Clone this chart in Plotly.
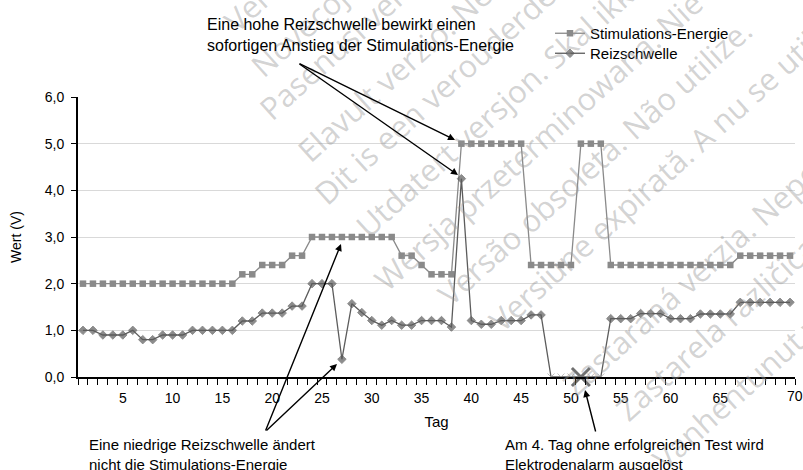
import math
import plotly.graph_objects as go

# ---------------- data ----------------
days = list(range(1, 73))

stim_energy = [2.0, 2.0, 2.0, 2.0, 2.0, 2.0, 2.0, 2.0, 2.0, 2.0,
               2.0, 2.0, 2.0, 2.0, 2.0, 2.0, 2.2, 2.2, 2.4, 2.4,
               2.4, 2.6, 2.6, 3.0, 3.0, 3.0, 3.0, 3.0, 3.0, 3.0,
               3.0, 3.0, 2.6, 2.6, 2.4, 2.2, 2.2, 2.2, 5.0, 5.0,
               5.0, 5.0, 5.0, 5.0, 5.0, 2.4, 2.4, 2.4, 2.4, 2.4,
               5.0, 5.0, 5.0, 2.4, 2.4, 2.4, 2.4, 2.4, 2.4, 2.4,
               2.4, 2.4, 2.4, 2.4, 2.4, 2.4, 2.6, 2.6, 2.6, 2.6,
               2.6, 2.6]

threshold = [1.0, 1.0, 0.9, 0.9, 0.9, 1.0, 0.8, 0.8, 0.9, 0.9,
             0.9, 1.0, 1.0, 1.0, 1.0, 1.0, 1.2, 1.2, 1.37, 1.37,
             1.37, 1.52, 1.52, 2.0, 2.0, 2.0, 0.38, 1.57, 1.38, 1.21,
             1.11, 1.21, 1.11, 1.11, 1.21, 1.21, 1.21, 1.07, 4.25, 1.21,
             1.13, 1.13, 1.21, 1.21, 1.21, 1.33, 1.33, 0.0, 0.0, 0.0,
             0.0, 0.0, 0.0, 1.25, 1.25, 1.25, 1.36, 1.36, 1.36, 1.25,
             1.25, 1.25, 1.35, 1.35, 1.35, 1.35, 1.6, 1.6, 1.6, 1.6,
             1.6, 1.6]

failed_days = [48, 49, 50, 51, 52, 53]   # no successful threshold test
alarm_day = 51                            # 4th day without success

x_tickvals = [5, 10, 15, 20, 25, 30, 35, 40, 45, 50, 55, 60, 65]
x_ticktext = ["5", "10", "15", "20", "25", "30", "35", "40", "45", "50",
              "55", "60", "65"]
last_tick_text = "70"
y_tickvals = [0, 1, 2, 3, 4, 5, 6]

watermark_texts = [
    "Versione obsoleta. Non utilizzare.",
    "Novecojusi versija. Neizmantot.",
    "Pasenusi versija. Nenaudokite.",
    "Elavult verzió. Ne használja!",
    "Dit is een verouderde versie.",
    "Utdatert versjon. Skal ikke brukes.",
    "Wersja przeterminowana. Nie używać.",
    "Versão obsoleta. Não utilize.",
    "Versiune expirată. A nu se utiliza.",
    "Zastaraná verzia. Nepoužívať.",
    "Zastarela različica. Ne uporabite.",
    "Vanhentunut versio. Älä käytä.",
]
# left ends of the watermark lines (pixels from top-left)
watermark_starts = [(212, 40), (245, 80), (255, 122), (283, 172), (305, 210),
                    (342, 248), (382, 282), (427, 312), (470, 347), (558, 397),
                    (600, 432), (648, 472)]

# ---------------- layout helpers ----------------
W, H = 803, 470
ML, MR, MT, MB = 78, 8, 97, 93
PW, PH = W - ML - MR, H - MT - MB


def px(x):
    return (x - ML) / PW


def py(y):
    return (MT + PH - y) / PH


FONT = "Liberation Sans, Arial, sans-serif"

thr_symbols = ["x-thin-open" if d in failed_days else "diamond" for d in days]
thr_sizes = [7 if d in failed_days else 6.5 for d in days]
thr_colors = ["#a0a0a0" if d in failed_days else "#5c5c5c" for d in days]

fig = go.Figure()
fig.add_trace(go.Scatter(
    x=days, y=stim_energy, mode="lines+markers", name="Stimulations-Energie",
    line=dict(color="#8a8a8a", width=1.3),
    marker=dict(symbol="square", size=6.5, color="#8a8a8a"),
    legend="legend",
))
fig.add_trace(go.Scatter(
    x=days, y=threshold, mode="lines+markers", name="Reizschwelle",
    line=dict(color="#5c5c5c", width=1.3),
    marker=dict(symbol=thr_symbols, size=thr_sizes, color=thr_colors,
                line=dict(color=thr_colors, width=1)),
    legend="legend2",
))
fig.add_trace(go.Scatter(
    x=[alarm_day], y=[threshold[days.index(alarm_day)]], mode="markers",
    showlegend=False, cliponaxis=False,
    marker=dict(symbol="x-thin-open", size=18, color="#707070",
                line=dict(color="#707070", width=3)),
))

annotations = []

# watermark (diagonal, light grey)
WM_SIZE = 31
WM_ANGLE = 42
ang = math.radians(WM_ANGLE)
dir_x, dir_y = math.cos(ang), -math.sin(ang)
for t, (sx, sy) in zip(watermark_texts, watermark_starts):
    L = len(t) * 0.5 * WM_SIZE
    cx, cy = sx + dir_x * L / 2, sy + dir_y * L / 2
    annotations.append(dict(
        text=t, x=px(cx), y=py(cy), xref="paper", yref="paper",
        xanchor="center", yanchor="middle", showarrow=False, textangle=-WM_ANGLE,
        font=dict(family="Open Sans, DejaVu Sans, sans-serif", size=WM_SIZE,
                  color="rgba(150,150,150,0.42)"),
    ))

texts = [
    dict(text="Eine hohe Reizschwelle bewirkt einen<br>sofortigen Anstieg der Stimulations-Energie",
         x=px(205), y=py(14), xanchor="left", yanchor="top", align="left", size=16),
    dict(text="Eine niedrige Reizschwelle ändert<br>nicht die Stimulations-Energie",
         x=px(87), y=py(434), xanchor="left", yanchor="top", align="left", size=15),
    dict(text="Am 4. Tag ohne erfolgreichen Test wird<br>Elektrodenalarm ausgelöst",
         x=px(503), y=py(434), xanchor="left", yanchor="top", align="left", size=15),
    dict(text=last_tick_text, x=1.0, y=py(386), xanchor="center", yanchor="top",
         align="center", size=14),
]
for a in texts:
    s = a.pop("size")
    a.update(xref="paper", yref="paper", showarrow=False,
             font=dict(family=FONT, size=s, color="black"))
    annotations.append(a)

arrows = [
    ((298, 63), (455, 140)),
    ((298, 63), (458, 175)),
    ((265, 432), (341, 244)),
    ((265, 432), (337, 364)),
    ((596, 433), (585, 390)),
]
for (tx, ty), (hx, hy) in arrows:
    annotations.append(dict(
        x=px(hx), y=py(hy), xref="paper", yref="paper", text="",
        showarrow=True, ax=tx - hx, ay=ty - hy,
        arrowhead=2, arrowsize=1, arrowwidth=1.4, arrowcolor="black",
    ))

legend_common = dict(xanchor="left", yanchor="top",
                     font=dict(family=FONT, size=15, color="black"),
                     bgcolor="rgba(0,0,0,0)", itemwidth=30)

fig.update_layout(
    width=W, height=H,
    margin=dict(l=ML, r=MR, t=MT, b=MB, autoexpand=False),
    paper_bgcolor="white", plot_bgcolor="white",
    separators=",.",
    font=dict(family=FONT, size=14, color="black"),
    annotations=annotations,
    legend=dict(x=px(550), y=py(17), **legend_common),
    legend2=dict(x=px(550), y=py(37), **legend_common),
    xaxis=dict(
        range=[0.5, 72.5], tickmode="array", tickvals=x_tickvals, ticktext=x_ticktext,
        ticks="outside", ticklen=7, tickcolor="rgba(0,0,0,0)",
        showgrid=False, zeroline=False, automargin=False,
        showline=True, linecolor="black", linewidth=2,
        minor=dict(tickmode="array", tickvals=[d - 0.5 for d in days] + [days[-1] + 0.5],
                   ticks="outside", ticklen=6, tickwidth=1.3, tickcolor="black",
                   showgrid=False),
        tickfont=dict(size=14),
        title=dict(text="Tag", font=dict(size=15), standoff=12),
    ),
    yaxis=dict(
        range=[0, 6], tickmode="array", tickvals=y_tickvals, tickformat=".1f",
        ticks="outside", ticklen=5, tickwidth=1.3, tickcolor="black",
        showgrid=True, gridcolor="#d9d9d9", gridwidth=1, zeroline=False,
        showline=True, linecolor="black", linewidth=2, automargin=False,
        tickfont=dict(size=14), ticklabelstandoff=4,
        title=dict(text="Wert (V)", font=dict(size=14), standoff=20),
    ),
)

fig.write_html("out.html", config={"displayModeBar": False},
               post_script="document.body.style.margin='0px';")
